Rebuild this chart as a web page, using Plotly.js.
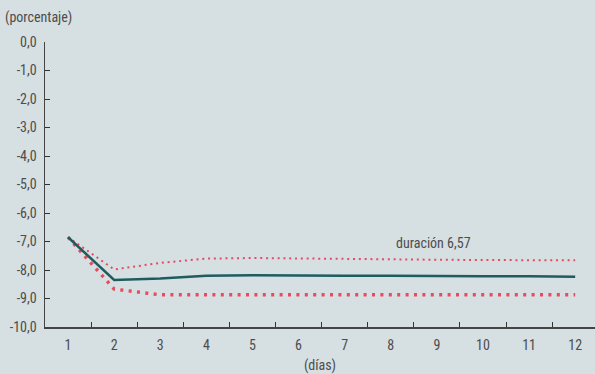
<!DOCTYPE html>
<html><head><meta charset="utf-8">
<script src="https://cdn.plot.ly/plotly-3.0.1.min.js"></script>
<style>html,body{margin:0;padding:0;background:#d6dfe1;}</style>
</head><body>
<div id="chart" style="width:595px;height:374px;"></div>
<script>
const days = ["1","2","3","4","5","6","7","8","9","10","11","12"];
const central = [-6.85,-8.35,-8.30,-8.20,-8.18,-8.20,-8.20,-8.20,-8.22,-8.22,-8.22,-8.24];
const upper = [-6.85,-7.98,-7.75,-7.60,-7.58,-7.60,-7.62,-7.63,-7.64,-7.65,-7.65,-7.66];
const lower = [-6.85,-8.67,-8.87,-8.87,-8.87,-8.87,-8.87,-8.87,-8.87,-8.87,-8.87,-8.87];
const yTickVals = [0,-1,-2,-3,-4,-5,-6,-7,-8,-9,-10];
const yTickText = ["0,0","-1,0","-2,0","-3,0","-4,0","-5,0","-6,0","-7,0","-8,0","-9,0","-10,0"];
const labelText = "duración 6,57";

const FONT = '"Roboto Condensed","Liberation Sans Narrow","DejaVu Sans Condensed",sans-serif';
const TXT = '#4d4d4d';
const FS = 14;

const traces = [
  {x: days, y: upper, mode:'lines', line:{color:'#e84a60', width:2, dash:'2px,3.8px'}, hoverinfo:'skip'},
  {x: days, y: lower, mode:'lines', line:{color:'#e84a60', width:3.4, dash:'3px,5.4px'}, hoverinfo:'skip'},
  {x: days, y: central, mode:'lines', line:{color:'#1e5c60', width:2.5}, hoverinfo:'skip'}
];

const layout = {
  width:595, height:374,
  margin:{l:45, r:0, t:42, b:47},
  paper_bgcolor:'#d6dfe1', plot_bgcolor:'#d6dfe1',
  showlegend:false,
  font:{family:FONT, size:FS, color:TXT},
  xaxis:{type:'category', range:[-0.5, 11.43], tickson:'boundaries',
    ticks:'inside', ticklen:5, tickcolor:'#333', tickwidth:1, ticklabelstandoff:5,
    showline:true, linecolor:'#444', linewidth:1.5, showgrid:false, zeroline:false,
    tickfont:{family:FONT, size:FS, color:TXT},
    title:{text:'(días)', font:{family:FONT, size:FS, color:TXT}, standoff:14}},
  yaxis:{range:[-10,0], tickvals:yTickVals, ticktext:yTickText,
    ticks:'inside', ticklen:5, tickcolor:'#333', tickwidth:1, ticklabelstandoff:4,
    showline:true, linecolor:'#444', linewidth:1.5, showgrid:false, zeroline:false,
    tickfont:{family:FONT, size:FS, color:TXT}},
  annotations:[
    {text:'(porcentaje)', xref:'paper', yref:'paper', x:-0.077, y:1.085, xanchor:'left', yanchor:'middle',
     showarrow:false, font:{family:FONT, size:FS, color:TXT}},
    {text:labelText, xref:'x', yref:'y', x:7.92, y:-7.05, xanchor:'center', yanchor:'middle',
     showarrow:false, font:{family:FONT, size:FS, color:TXT}}
  ]
};
Plotly.newPlot('chart', traces, layout, {staticPlot:true, displayModeBar:false});
</script>
</body></html>
